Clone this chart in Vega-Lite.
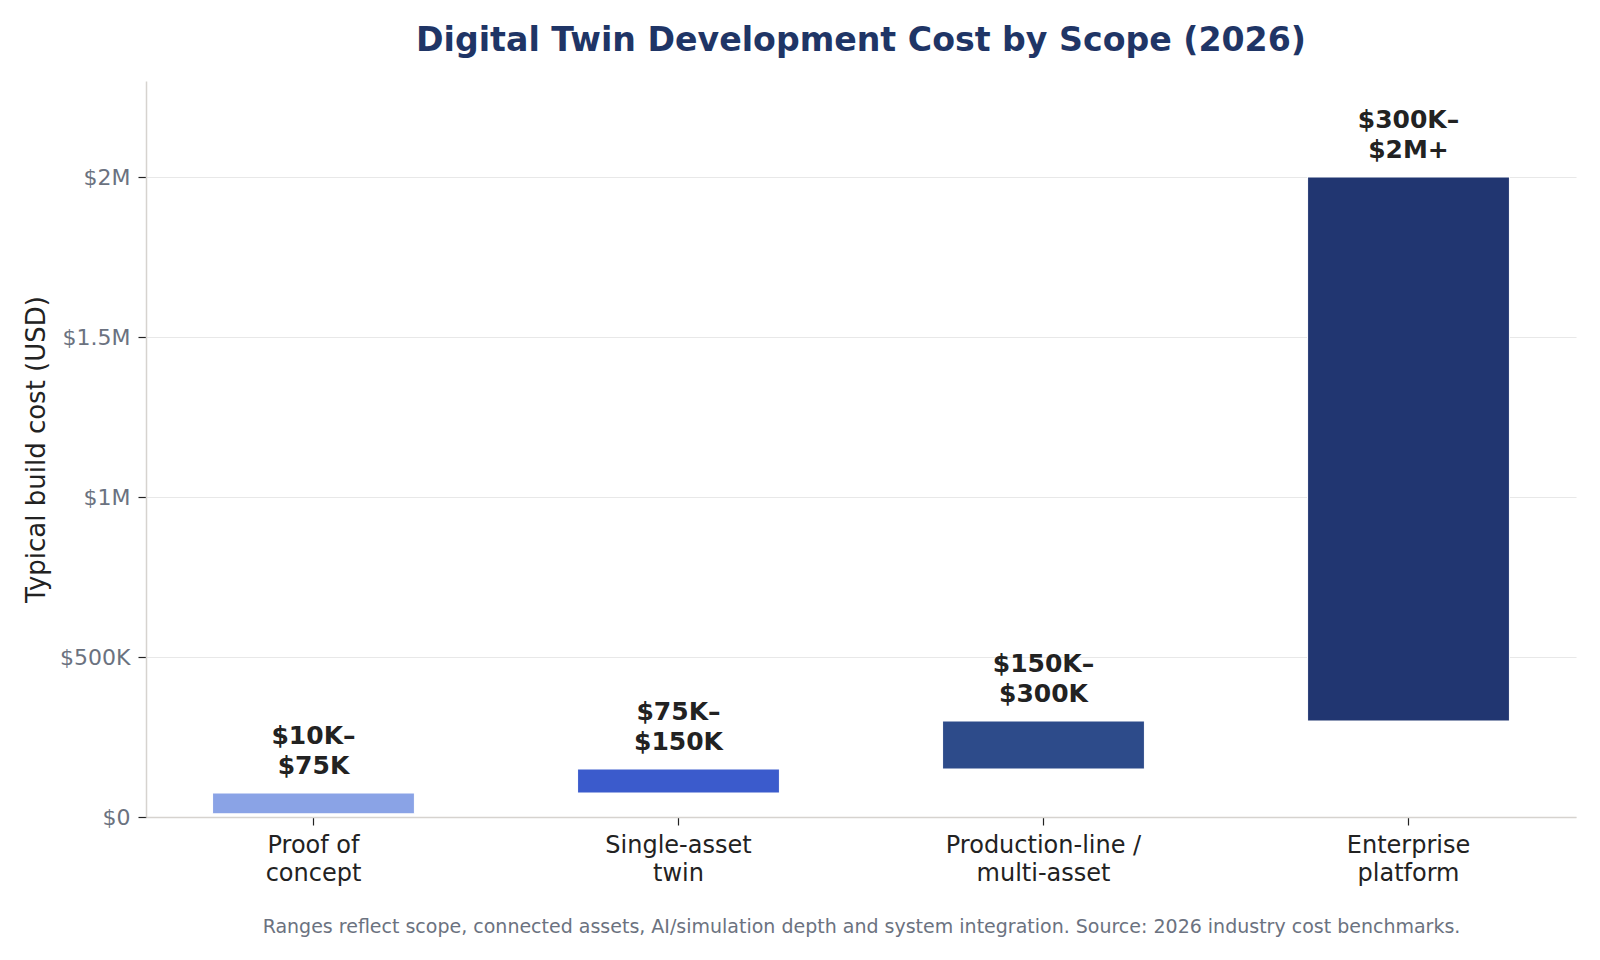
{
  "$schema": "https://vega.github.io/schema/vega-lite/v6.json",
  "autosize": {"type": "none"},
  "padding": {"left": 146, "top": 81, "right": 24, "bottom": 143},
  "width": 1430,
  "height": 736,
  "background": "#ffffff",
  "title": {
    "text": "Digital Twin Development Cost by Scope (2026)",
    "anchor": "middle",
    "font": "DejaVu Sans",
    "fontSize": 33.2,
    "fontWeight": "bold",
    "color": "#1f3566",
    "baseline": "alphabetic",
    "offset": -3
  },
  "data": {
    "values": [
      {"scope": "Proof of concept", "low": 10000, "high": 75000, "range": "$10K–\n$75K"},
      {"scope": "Single-asset twin", "low": 75000, "high": 150000, "range": "$75K–\n$150K"},
      {"scope": "Production-line / multi-asset", "low": 150000, "high": 300000, "range": "$150K–\n$300K"},
      {"scope": "Enterprise platform", "low": 300000, "high": 2000000, "range": "$300K–\n$2M+"}
    ]
  },
  "encoding": {
    "x": {
      "field": "scope",
      "type": "nominal",
      "sort": null,
      "scale": {"paddingInner": 0.447, "paddingOuter": 0.1824},
      "axis": {
        "title": "Ranges reflect scope, connected assets, AI/simulation depth and system integration. Source: 2026 industry cost benchmarks.",
        "titleFont": "DejaVu Sans",
        "titleFontSize": 19,
        "titleFontWeight": "normal",
        "titleColor": "#6b7280",
        "titlePadding": 32,
        "labelAngle": 0,
        "labelFont": "DejaVu Sans",
        "labelFontSize": 24,
        "labelColor": "#222222",
        "labelLineHeight": 28.6,
        "labelPadding": 8,
        "labelLimit": 400,
        "labelExpr": "datum.value == 'Proof of concept' ? ['Proof of', 'concept'] : datum.value == 'Single-asset twin' ? ['Single-asset', 'twin'] : datum.value == 'Production-line / multi-asset' ? ['Production-line /', 'multi-asset'] : ['Enterprise', 'platform']",
        "domainColor": "#d6d3cf",
        "domainWidth": 1.5,
        "tickColor": "#222222",
        "tickSize": 8,
        "tickWidth": 1.2
      }
    }
  },
  "layer": [
    {
      "mark": {"type": "bar", "stroke": "#ffffff", "strokeWidth": 1},
      "encoding": {
        "y": {
          "field": "low",
          "type": "quantitative",
          "scale": {"domain": [0, 2300000], "nice": false},
          "axis": {
            "title": "Typical build cost (USD)",
            "titleFont": "DejaVu Sans",
            "titleFontSize": 26,
            "titleFontWeight": "normal",
            "titleColor": "#222222",
            "titlePadding": 10,
            "values": [0, 500000, 1000000, 1500000, 2000000],
            "labelExpr": "datum.value == 0 ? '$0' : datum.value >= 1000000 ? '$' + (datum.value / 1000000) + 'M' : '$' + (datum.value / 1000) + 'K'",
            "labelFont": "DejaVu Sans",
            "labelFontSize": 22,
            "labelColor": "#6b7280",
            "labelPadding": 8,
            "domainColor": "#d6d3cf",
            "domainWidth": 1.5,
            "tickColor": "#222222",
            "tickSize": 8,
            "tickWidth": 1.2,
            "gridColor": "#e8e8e8",
            "gridWidth": 1.2
          }
        },
        "y2": {"field": "high"},
        "color": {
          "field": "scope",
          "type": "nominal",
          "scale": {
            "domain": ["Proof of concept", "Single-asset twin", "Production-line / multi-asset", "Enterprise platform"],
            "range": ["#8aa3e6", "#3b5bcc", "#2d4b8a", "#213671"]
          },
          "legend": null
        }
      }
    },
    {
      "mark": {
        "type": "text",
        "font": "DejaVu Sans",
        "fontSize": 25,
        "fontWeight": "bold",
        "color": "#222222",
        "align": "center",
        "baseline": "bottom",
        "lineBreak": "\n",
        "lineHeight": 30,
        "dy": -44
      },
      "encoding": {
        "y": {"field": "high", "type": "quantitative"},
        "text": {"field": "range"}
      }
    }
  ],
  "config": {
    "view": {"stroke": null}
  }
}
